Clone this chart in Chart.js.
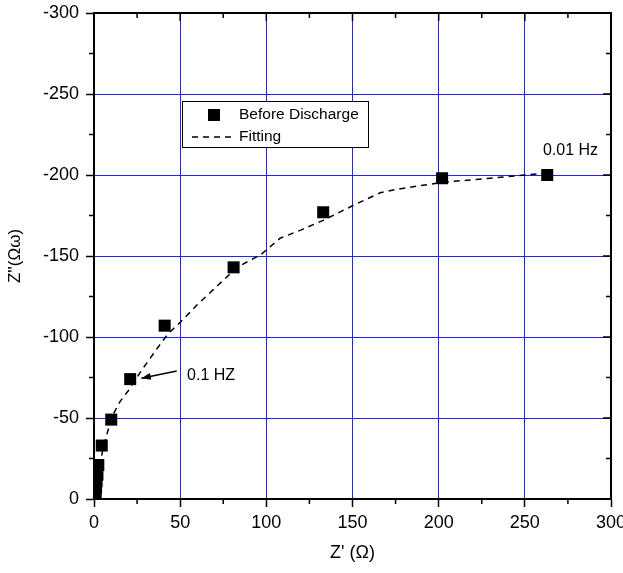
<!DOCTYPE html>
<html>
<head>
<meta charset="utf-8">
<script src="https://cdn.jsdelivr.net/npm/chart.js@4/dist/chart.umd.min.js"></script>
<style>
  body { margin: 0; background: #fff; }
  #wrap { width: 623px; height: 573px; }
</style>
</head>
<body>
<div id="wrap"><canvas id="chart" width="623" height="573"></canvas></div>
<script>
// measured points (Before Discharge)
const zReal = [1, 1.2, 1.5, 2, 2.5, 4.5, 10, 21, 41, 81, 133, 202, 263];
const zImag = [-3, -7, -11, -15, -21, -33, -49, -74, -107, -143, -177, -198, -200];

// fitting curve
const fitX = [0.5, 1.5, 3, 5, 8, 11, 15, 20, 28, 36, 43, 50, 60, 70, 83, 97, 108, 120, 133, 150, 166, 175, 202, 230, 250, 260];
const fitY = [0, -8, -18, -30, -42, -52, -60, -67, -80, -92, -102, -109, -120, -130, -143, -151, -161, -166, -172, -181, -189, -191, -195.5, -198, -200, -201];

const xTicks = [0, 50, 100, 150, 200, 250, 300];
const yTicks = [-300, -250, -200, -150, -100, -50, 0];
const minorTicks = [25, 75, 125, 175, 225, 275];

const FONT = "'Liberation Sans', Arial, sans-serif";

const toPts = (xs, ys) => xs.map((x, i) => ({ x: x, y: ys[i] }));

// minor ticks, frame on top/right, legend box and annotations
const extras = {
  id: 'extras',
  afterDraw(chart) {
    const ctx = chart.ctx;
    const a = chart.chartArea;
    const xs = chart.scales.x, ys = chart.scales.y;
    ctx.save();
    ctx.strokeStyle = '#000';
    ctx.lineWidth = 2;
    ctx.beginPath();
    // frame top + right
    ctx.moveTo(a.left, a.top); ctx.lineTo(a.right, a.top); ctx.lineTo(a.right, a.bottom);
    ctx.stroke();
    ctx.lineWidth = 1.5;
    ctx.beginPath();
    minorTicks.forEach(v => {
      const px = xs.getPixelForValue(v);
      ctx.moveTo(px, a.bottom); ctx.lineTo(px, a.bottom + 5);
      ctx.moveTo(px, a.top); ctx.lineTo(px, a.top + 5);
      const py = ys.getPixelForValue(-v);
      ctx.moveTo(a.left, py); ctx.lineTo(a.left - 5, py);
      ctx.moveTo(a.right, py); ctx.lineTo(a.right - 5, py);
    });
    xTicks.forEach(v => {
      const px = xs.getPixelForValue(v);
      ctx.moveTo(px, a.top); ctx.lineTo(px, a.top + 8);
    });
    yTicks.forEach(v => {
      const py = ys.getPixelForValue(v);
      ctx.moveTo(a.right, py); ctx.lineTo(a.right - 8, py);
    });
    ctx.stroke();

    // legend
    const lx = a.left + 88, ly = a.top + 88;
    ctx.fillStyle = '#fff';
    ctx.fillRect(lx, ly, 186, 46);
    ctx.lineWidth = 1;
    ctx.strokeRect(lx + 0.5, ly + 0.5, 186, 46);
    ctx.fillStyle = '#000';
    ctx.fillRect(lx + 26, ly + 8, 12, 12);
    ctx.beginPath();
    ctx.setLineDash([6, 5]);
    ctx.lineWidth = 1.5;
    ctx.moveTo(lx + 10, ly + 36); ctx.lineTo(lx + 50, ly + 36);
    ctx.stroke();
    ctx.setLineDash([]);
    ctx.font = '15.5px ' + FONT;
    ctx.textBaseline = 'middle';
    ctx.textAlign = 'left';
    ctx.fillText(chart.data.datasets[0].label, lx + 57, ly + 14);
    ctx.fillText(chart.data.datasets[1].label, lx + 57, ly + 36);

    // annotations
    ctx.font = '16px ' + FONT;
    ctx.fillText('0.01 Hz', xs.getPixelForValue(260.5), ys.getPixelForValue(-215));
    ctx.fillText('0.1 HZ', xs.getPixelForValue(54), ys.getPixelForValue(-76));
    const x1 = xs.getPixelForValue(48), y1 = ys.getPixelForValue(-79);
    const x2 = xs.getPixelForValue(27.5), y2 = ys.getPixelForValue(-74.5);
    const ang = Math.atan2(y2 - y1, x2 - x1);
    ctx.beginPath();
    ctx.lineWidth = 1.5;
    ctx.moveTo(x1, y1); ctx.lineTo(x2, y2);
    ctx.stroke();
    ctx.beginPath();
    ctx.moveTo(x2, y2);
    ctx.lineTo(x2 - 10 * Math.cos(ang - 0.35), y2 - 10 * Math.sin(ang - 0.35));
    ctx.lineTo(x2 - 10 * Math.cos(ang + 0.35), y2 - 10 * Math.sin(ang + 0.35));
    ctx.closePath();
    ctx.fill();
    ctx.restore();
  }
};

new Chart(document.getElementById('chart'), {
  type: 'scatter',
  data: {
    datasets: [
      {
        label: 'Before Discharge',
        data: toPts(zReal, zImag),
        pointStyle: 'rect',
        pointRadius: 8.5,
        pointHoverRadius: 8.5,
        backgroundColor: '#000',
        borderWidth: 0,
        clip: 0,
        order: 0
      },
      {
        label: 'Fitting',
        type: 'line',
        data: toPts(fitX, fitY),
        borderColor: '#000',
        borderWidth: 1.5,
        borderDash: [6, 5],
        pointRadius: 0,
        tension: 0,
        fill: false,
        order: 1
      }
    ]
  },
  options: {
    responsive: false,
    animation: false,
    layout: { padding: { top: 13, right: 12, left: 0, bottom: 0 } },
    plugins: { legend: { display: false }, tooltip: { enabled: false } },
    scales: {
      x: {
        type: 'linear',
        min: 0, max: 300,
        afterFit: s => { s.height = 74; s.paddingLeft = 0; s.paddingRight = 0; },
        afterBuildTicks: s => { s.ticks = xTicks.map(v => ({ value: v })); },
        ticks: { color: '#000', font: { size: 18, family: FONT }, padding: 5 },
        grid: { color: '#2222ff', lineWidth: 1, tickColor: '#000', tickLength: 8, tickWidth: 1.5 },
        border: { color: '#000', width: 2 },
        title: { display: true, text: "Z' (\u03A9)", color: '#000', font: { size: 18, family: FONT }, padding: { top: 0, bottom: 9 } }
      },
      y: {
        type: 'linear',
        min: -300, max: 0,
        reverse: true,
        afterFit: s => { s.width = 94; s.paddingTop = 0; s.paddingBottom = 0; },
        afterBuildTicks: s => { s.ticks = yTicks.map(v => ({ value: v })); },
        ticks: { color: '#000', font: { size: 18, family: FONT }, padding: 7 },
        grid: { color: '#2222ff', lineWidth: 1, tickColor: '#000', tickLength: 8, tickWidth: 1.5 },
        border: { color: '#000', width: 2 },
        title: { display: true, text: "Z''(\u03A9\u03C9)", color: '#000', font: { size: 17, family: FONT }, padding: { top: 5, bottom: 0 } }
      }
    }
  },
  plugins: [extras]
});
</script>
</body>
</html>
